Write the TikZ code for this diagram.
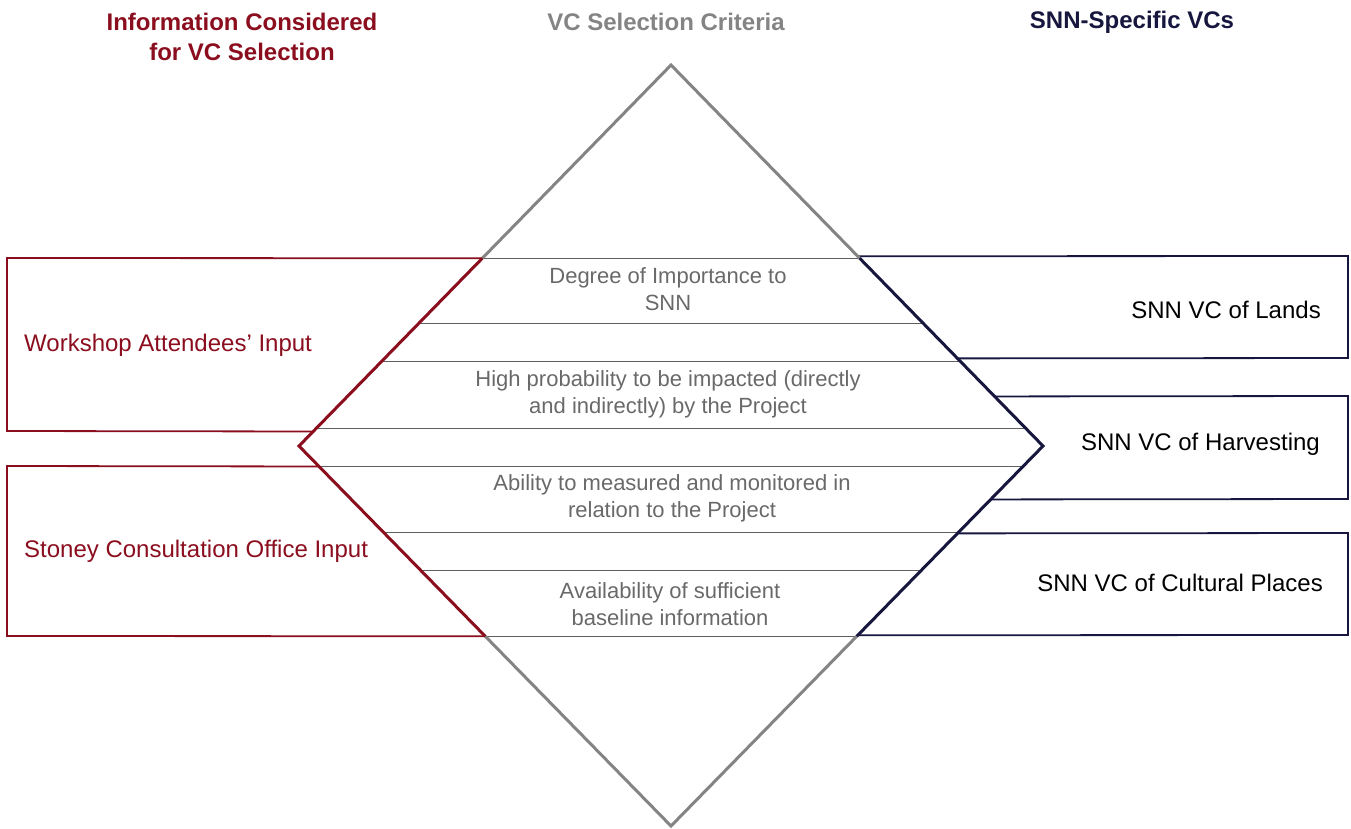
\documentclass[tikz,border=0pt]{standalone}
\usepackage{fontspec}
\setmainfont{Liberation Sans}
\usetikzlibrary{calc, positioning}
\definecolor{myred}{RGB}{139,14,30}
\definecolor{mynavy}{RGB}{22,22,62}
\definecolor{mygrey}{RGB}{132,132,132}
\definecolor{mytext}{RGB}{105,105,105}
\definecolor{myrule}{RGB}{95,95,95}

\begin{document}
\begin{tikzpicture}[x=1pt,y=-1pt,
    every node/.style={inner sep=0pt,font=\fontsize{24}{30}\selectfont},
    crit/.style={align=center,text=mytext,font=\fontsize{22}{27}\selectfont},
    rowline/.style={myrule,line width=1.4pt},
    edge/.style={line width=3pt,line join=miter},
    box/.style={line width=1.8pt}]
    \useasboundingbox (0,0) rectangle (1351,828);
    % diamond corners
    \coordinate (top) at (671,65);
    \coordinate (bot) at (671,826);
    \coordinate (lft) at (299,446);
    \coordinate (rgt) at (1043,446);
    % points on the diamond edges
    \foreach \yy in {256,258,323,358,361,396,428,431} {
        \pgfmathsetmacro{\rr}{(\yy-65)/380.5}
        \coordinate (l\yy) at ($(top)!\rr!(lft)$);
        \coordinate (r\yy) at ($(top)!\rr!(rgt)$);
    }
    \foreach \yy in {466,499,532,533,570,635,636} {
        \pgfmathsetmacro{\rr}{(826-\yy)/380.5}
        \coordinate (l\yy) at ($(bot)!\rr!(lft)$);
        \coordinate (r\yy) at ($(bot)!\rr!(rgt)$);
    }
    % criteria rows
    \foreach \yy in {258,323,361,428,466,532,570,636} {
        \draw[rowline] (l\yy) -- (r\yy);
    }
    % left boxes
    \draw[box,myred] (l258) -- (7,258) -- (7,431) -- (l431);
    \draw[box,myred] (l466) -- (7,466) -- (7,636) -- (l636);
    % right boxes
    \draw[box,mynavy] (r256) -- (1348,256) -- (1348,358) -- (r358);
    \draw[box,mynavy] (r396) -- (1348,396) -- (1348,499) -- (r499);
    \draw[box,mynavy] (r533) -- (1348,533) -- (1348,635) -- (r635);
    % diamond
    \draw[edge,mygrey] (l258) -- (top) -- (r258);
    \draw[edge,mygrey] (l636) -- (bot) -- (r636);
    \draw[edge,myred] (l258) -- (lft) -- (l636);
    \draw[edge,mynavy] (r258) -- (rgt) -- (r636);
    % headings
    \node[align=center,text=myred,font=\fontsize{24}{30}\selectfont\bfseries] (infohd) at (242,37) {Information Considered\\for VC Selection};
    \node[text=mygrey,font=\fontsize{24}{30}\selectfont\bfseries] (crithd) at (666,22) {VC Selection Criteria};
    \node[text=mynavy,font=\fontsize{24}{30}\selectfont\bfseries] (vchd) at (1132,22) {SNN-Specific VCs};
    % inputs
    \node[anchor=west,text=myred] (workshop) at (24,345) {Workshop Attendees’ Input};
    \node[anchor=west,text=myred] (stoney) at (24,551) {Stoney Consultation Office Input};
    % criteria
    \node[crit] (importance) at (668,289) {Degree of Importance to\\SNN};
    \node[crit] (impacted) at (668,394) {High probability to be impacted (directly\\and indirectly) by the Project};
    \node[crit] (measured) at (672,498) {Ability to measured and monitored in\\relation to the Project};
    \node[crit] (baseline) at (670,604) {Availability of sufficient\\baseline information};
    % VCs
    \node[anchor=east] (lands) at (1321,310) {SNN VC of Lands};
    \node[anchor=east] (harvest) at (1320,444) {SNN VC of Harvesting};
    \node[anchor=east] (places) at (1323,583) {SNN VC of Cultural Places};
\end{tikzpicture}
\end{document}
